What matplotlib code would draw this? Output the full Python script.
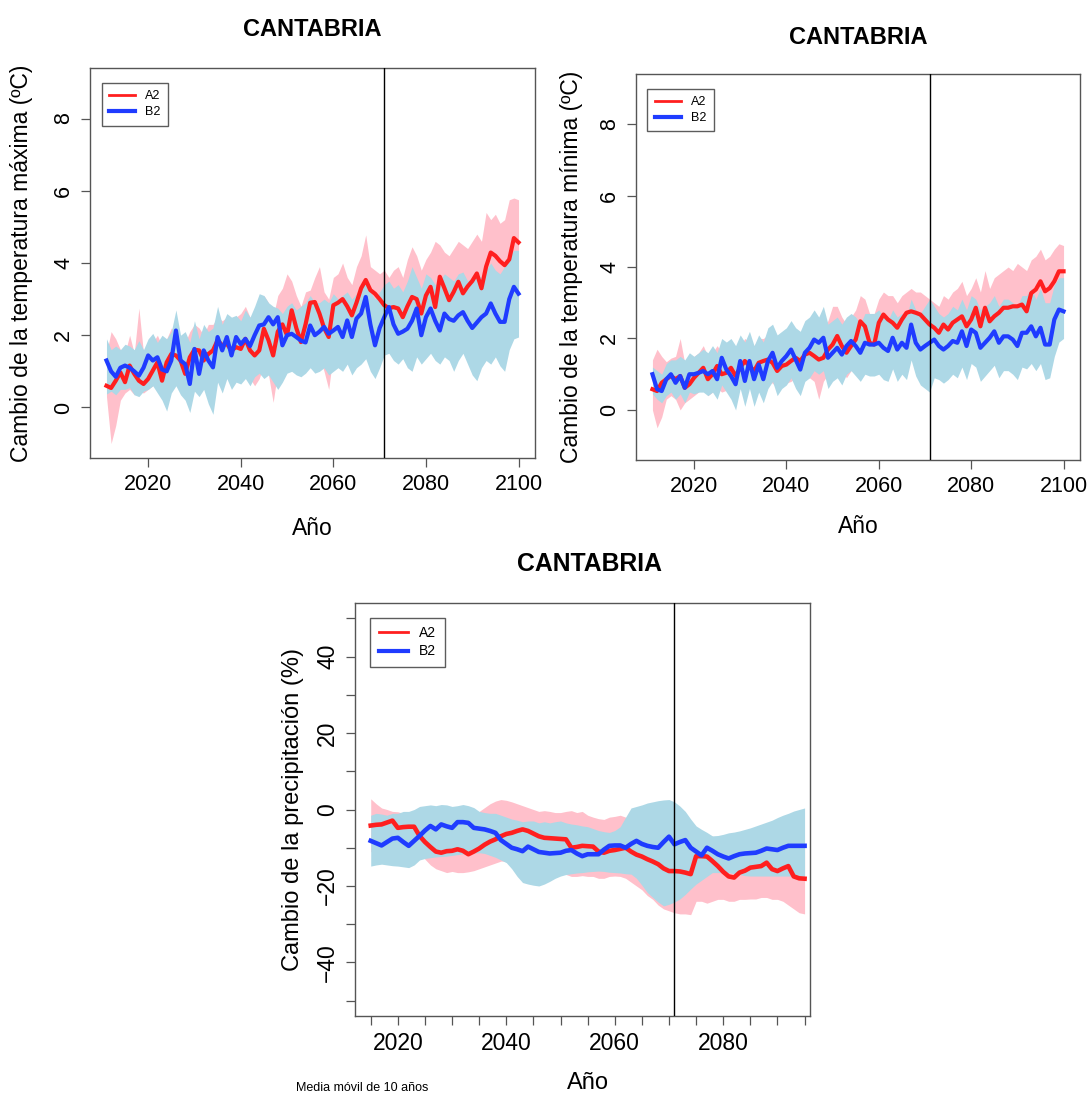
import numpy as np
import matplotlib
matplotlib.use('Agg')
import matplotlib.pyplot as plt
from matplotlib.lines import Line2D

plt.rcParams['font.family'] = ['Liberation Sans', 'DejaVu Sans']

# ---------------- data ----------------
years_temp = list(range(2011, 2101))
years_prec = list(range(2015, 2096))
vline_year = 2071
region = "CANTABRIA"
scenarios = ["A2", "B2"]

tmax_a2 = [0.60, 0.54, 0.74, 0.97, 0.70, 1.16, 0.93, 0.74, 0.65, 0.79,
           1.02, 1.25, 0.74, 1.25, 1.48, 1.44, 1.30, 0.93, 1.39, 1.60,
           1.58, 1.30, 1.48, 1.58, 1.86, 1.72, 1.76, 1.58, 1.67, 1.62,
           1.90, 1.58, 1.44, 1.58, 2.18, 1.86, 1.44, 2.10, 2.30, 2.00,
           2.69, 2.20, 1.81, 2.30, 2.90, 2.92, 2.60, 2.20, 1.95, 2.83,
           2.90, 3.00, 2.80, 2.55, 2.90, 3.30, 3.53, 3.25, 3.15, 3.00,
           2.83, 2.75, 2.78, 2.74, 2.50, 2.80, 3.06, 3.00, 2.60, 3.10,
           3.34, 2.78, 3.62, 3.30, 2.97, 3.20, 3.48, 3.16, 3.35, 3.50,
           3.71, 3.30, 3.90, 4.29, 4.20, 4.05, 3.94, 4.10, 4.69, 4.57]
tmax_a2_lo = [0.3, -1.0, -0.5, 0.2, 0.4, 0.5, 0.35, 0.45, 0.4, 0.5,
              0.6, 0.7, 0.3, 0.6, 0.8, 0.7, 0.7, 0.4, 0.6, 0.8,
              0.8, 0.6, 0.8, 0.8, 1.0, 0.9, 1.0, 0.8, 0.9, 0.9,
              1.0, 0.8, 0.6, 0.8, 1.2, 0.9, 0.14, 1.0, 1.2, 1.1,
              1.5, 1.2, 0.9, 1.2, 1.5, 1.6, 1.4, 1.0, 0.5, 1.5,
              1.6, 1.7, 1.6, 1.4, 1.6, 1.9, 2.0, 1.8, 1.7, 1.6,
              1.6, 1.7, 1.6, 1.6, 1.5, 1.7, 1.9, 1.9, 1.5, 1.9,
              2.1, 1.7, 2.3, 2.1, 1.8, 2.0, 2.2, 2.0, 2.1, 2.2,
              2.4, 2.1, 2.6, 2.9, 2.9, 2.7, 2.6, 2.8, 3.3, 3.3]
tmax_a2_hi = [1.5, 2.1, 1.9, 1.6, 1.5, 2.0, 1.5, 2.75, 1.5, 1.6,
              1.8, 2.0, 1.7, 1.9, 2.2, 2.1, 2.0, 1.8, 2.1, 2.3,
              2.2, 2.0, 2.3, 2.3, 2.5, 2.4, 2.5, 2.4, 2.5, 2.6,
              2.8, 2.5, 2.4, 2.7, 3.1, 2.9, 2.5, 3.1, 3.3, 3.7,
              3.5, 3.1, 2.8, 3.2, 3.25, 3.6, 3.9, 3.2, 3.0, 3.6,
              3.7, 4.0, 3.6, 3.4, 3.9, 4.2, 4.78, 3.9, 3.8, 3.7,
              3.8, 3.6, 3.8, 3.9, 3.6, 4.1, 4.45, 4.2, 3.8, 4.1,
              4.3, 4.6, 4.5, 4.3, 4.2, 4.4, 4.6, 4.5, 4.4, 4.6,
              4.8, 4.6, 5.4, 5.2, 5.35, 5.1, 5.2, 5.75, 5.8, 5.75]
tmax_b2 = [1.30, 1.00, 0.85, 1.10, 1.16, 1.10, 1.00, 0.88, 1.10, 1.44,
           1.30, 1.39, 1.05, 1.00, 1.30, 2.13, 1.30, 1.20, 0.65, 1.62,
           0.93, 1.58, 1.30, 1.11, 1.95, 1.58, 1.95, 1.44, 1.95, 1.75,
           1.90, 1.70, 2.00, 2.27, 2.30, 2.50, 2.30, 2.50, 1.72, 2.00,
           2.04, 1.95, 1.85, 1.80, 2.27, 2.00, 2.10, 2.23, 2.04, 2.13,
           2.23, 1.95, 2.41, 1.95, 2.46, 2.60, 3.06, 2.30, 1.72, 2.20,
           2.50, 2.78, 2.30, 2.04, 2.10, 2.18, 2.40, 2.74, 2.00, 2.50,
           2.74, 2.40, 2.13, 2.60, 2.45, 2.40, 2.55, 2.64, 2.40, 2.20,
           2.35, 2.50, 2.60, 2.88, 2.60, 2.37, 2.37, 3.00, 3.34, 3.15]
tmax_b2_lo = [0.37, 0.45, 0.35, 0.5, 0.5, 0.55, 0.35, 0.3, 0.45, 0.5,
              0.6, 0.4, 0.2, -0.1, 0.4, 0.6, 0.35, 0.2, -0.14, 0.45,
              0.3, 0.5, 0.1, -0.19, 0.7, 0.4, 0.8, 0.5, 0.7, 0.65,
              0.8, 0.6, 0.85, 0.95, 0.8, 0.9, 0.7, 0.5, 0.7, 0.95,
              1.0, 0.9, 0.85, 0.95, 1.1, 0.95, 1.0, 1.1, 0.9, 1.0,
              1.1, 1.0, 1.2, 0.9, 1.1, 1.2, 1.35, 1.0, 0.8, 1.1,
              1.45, 1.5, 1.3, 1.2, 1.35, 1.1, 1.0, 1.4, 1.2, 1.35,
              1.5, 1.3, 1.2, 1.4, 1.3, 1.0, 1.3, 1.5, 1.2, 0.9,
              0.74, 1.1, 1.3, 1.2, 1.4, 1.15, 1.0, 1.6, 1.9, 1.95]
tmax_b2_hi = [1.9, 1.6, 1.7, 1.6, 1.75, 1.7, 1.6, 1.85, 1.6, 1.9,
              2.05, 1.8, 2.0, 1.9, 2.1, 2.7, 2.0, 2.1, 1.8, 2.4,
              1.9, 2.3, 2.1, 2.2, 2.8, 2.3, 2.6, 2.5, 2.55, 2.4,
              2.7, 2.5, 2.8, 3.15, 3.1, 2.9, 2.8, 2.75, 2.6, 2.8,
              2.9, 2.7, 2.8, 2.9, 3.1, 2.9, 2.9, 3.0, 2.9, 3.15,
              3.0, 3.1, 3.2, 3.0, 3.15, 3.3, 3.6, 3.2, 3.0, 3.2,
              3.4, 3.5, 3.3, 3.4, 3.2, 3.5, 3.9, 3.6, 3.3, 3.7,
              3.6, 3.4, 3.5, 3.7, 3.6, 3.5, 3.7, 3.75, 3.5, 3.6,
              3.7, 3.6, 3.8, 4.0, 3.8, 3.7, 3.9, 4.2, 4.35, 4.35]

tmin_a2 = [0.58, 0.53, 0.76, 0.86, 0.95, 0.86, 0.95, 0.62, 0.72, 0.90,
           1.04, 1.18, 0.86, 1.00, 1.23, 1.00, 1.04, 1.18, 0.95, 1.18,
           1.37, 1.23, 1.09, 1.32, 1.37, 1.41, 1.32, 1.09, 1.23, 1.27,
           1.37, 1.46, 1.37, 1.55, 1.60, 1.51, 1.41, 1.46, 1.69, 1.83,
           2.07, 1.79, 1.60, 1.79, 1.97, 2.48, 2.34, 1.88, 1.83, 2.44,
           2.67, 2.53, 2.44, 2.30, 2.53, 2.72, 2.76, 2.72, 2.67, 2.53,
           2.39, 2.30, 2.16, 2.39, 2.25, 2.44, 2.53, 2.62, 2.34, 2.53,
           2.86, 2.34, 2.86, 2.48, 2.62, 2.72, 2.86, 2.86, 2.90, 2.90,
           2.95, 2.76, 3.27, 3.37, 3.60, 3.32, 3.41, 3.60, 3.88, 3.88]
tmin_a2_lo = [0.0, -0.5, -0.2, 0.3, 0.4, 0.3, 0.0, 0.2, 0.3, 0.4,
              0.5, 0.6, 0.4, 0.5, 0.6, 0.5, 0.55, 0.6, 0.45, 0.6,
              0.8, 0.7, 0.6, 0.75, 0.8, 0.8, 0.75, 0.6, 0.7, 0.75,
              0.8, 0.9, 0.8, 0.9, 0.9, 0.8, 0.3, 0.8, 1.0, 1.1,
              1.3, 1.1, 0.9, 1.1, 1.2, 1.6, 1.5, 1.1, 1.1, 1.6,
              1.8, 1.7, 1.6, 1.5, 1.6, 1.8, 1.9, 1.8, 1.8, 1.6,
              1.5, 1.4, 1.3, 1.5, 1.4, 1.6, 1.6, 1.7, 1.5, 1.6,
              1.9, 1.5, 1.9, 1.6, 1.7, 1.8, 1.9, 1.9, 2.0, 2.0,
              2.0, 1.8, 2.3, 2.4, 2.6, 2.4, 2.5, 2.6, 2.9, 2.9]
tmin_a2_hi = [1.4, 1.7, 1.5, 1.35, 1.45, 1.5, 2.0, 1.3, 1.4, 1.5,
              1.6, 1.8, 1.5, 1.6, 1.8, 1.6, 1.7, 1.8, 1.6, 1.8,
              2.0, 1.9, 1.8, 2.0, 2.0, 2.1, 2.0, 1.8, 1.95, 2.0,
              2.1, 2.2, 2.1, 2.3, 2.4, 2.3, 2.6, 2.3, 2.5, 2.9,
              2.9, 2.6, 2.4, 2.6, 2.8, 3.2, 3.1, 2.7, 2.7, 3.1,
              3.3, 3.2, 3.2, 3.0, 3.2, 3.3, 3.4, 3.3, 3.3, 3.2,
              3.1, 3.0, 2.9, 3.2, 3.1, 3.3, 3.4, 3.6, 3.2, 3.4,
              3.7, 3.3, 3.9, 3.4, 3.7, 3.8, 3.9, 4.0, 3.9, 4.1,
              4.0, 3.9, 4.2, 4.3, 4.5, 4.2, 4.3, 4.5, 4.65, 4.6]
tmin_b2 = [1.00, 0.58, 0.53, 0.86, 1.00, 0.76, 0.95, 0.62, 1.00, 1.00,
           1.04, 1.09, 1.00, 1.09, 0.86, 1.46, 1.13, 0.95, 0.72, 1.37,
           0.81, 1.37, 0.86, 1.27, 0.86, 1.37, 1.60, 1.18, 1.37, 1.51,
           1.69, 1.41, 1.13, 1.60, 1.74, 1.97, 1.88, 2.02, 1.46, 1.60,
           1.74, 1.55, 1.79, 1.93, 1.79, 1.60, 1.88, 1.83, 1.83, 1.88,
           1.74, 1.65, 2.02, 1.69, 1.88, 1.74, 2.39, 1.88, 1.69, 1.79,
           1.88, 1.97, 1.79, 1.69, 1.79, 1.93, 1.88, 2.20, 1.79, 2.25,
           2.16, 1.74, 1.88, 2.02, 2.20, 1.88, 2.06, 2.06, 1.97, 1.79,
           2.16, 2.16, 2.34, 2.06, 2.30, 1.83, 1.83, 2.53, 2.81, 2.76]
tmin_b2_lo = [0.45, 0.3, 0.2, 0.4, 0.5, 0.3, 0.45, 0.2, 0.5, 0.45,
              0.5, 0.5, 0.4, 0.5, 0.3, 0.7, 0.5, 0.3, 0.0, 0.6,
              0.1, 0.6, 0.1, 0.5, 0.2, 0.6, 0.8, 0.4, 0.6, 0.7,
              0.9, 0.6, 0.4, 0.8, 0.9, 1.1, 1.0, 1.1, 0.6, 0.8,
              0.9, 0.7, 1.0, 1.1, 0.95, 0.8, 1.0, 0.95, 0.95, 1.0,
              0.85, 0.8, 1.15, 0.8, 1.0, 0.85, 1.4, 0.95, 0.7, 0.6,
              0.5, 0.9, 0.85, 0.75, 0.85, 1.0, 0.9, 1.2, 0.85, 1.3,
              1.2, 0.8, 0.95, 1.1, 1.25, 0.9, 1.1, 1.1, 1.0, 0.85,
              1.2, 1.15, 1.3, 1.1, 1.3, 0.85, 0.9, 1.5, 1.9, 2.0]
tmin_b2_hi = [1.2, 1.1, 1.0, 1.3, 1.4, 1.4, 1.5, 1.4, 1.6, 1.5,
              1.6, 1.7, 1.6, 1.8, 1.6, 2.0, 1.9, 2.0, 1.8, 2.1,
              1.9, 2.2, 1.8, 2.1, 1.9, 2.3, 2.4, 2.1, 2.2, 2.3,
              2.5, 2.3, 2.2, 2.5, 2.6, 2.8, 2.6, 2.9, 2.4, 2.5,
              2.6, 2.4, 2.6, 2.7, 2.6, 2.4, 2.7, 2.7, 2.7, 2.8,
              2.6, 2.5, 2.8, 2.6, 2.7, 2.6, 3.1, 2.8, 2.7, 2.9,
              3.1, 2.9, 2.7, 2.6, 2.7, 2.9, 2.8, 3.1, 2.8, 3.2,
              3.1, 2.8, 2.9, 3.0, 3.2, 2.9, 3.1, 3.1, 3.0, 2.9,
              3.2, 3.2, 3.4, 3.1, 3.4, 3.0, 3.0, 3.5, 3.7, 3.7]

prec_a2 = [-4.2, -4.0, -3.9, -3.4, -2.9, -4.8, -4.6, -4.5, -4.5, -6.9,
           -8.5, -9.8, -11.0, -11.3, -10.9, -10.8, -10.4, -10.8, -11.7, -11.0,
           -10.2, -9.2, -8.4, -7.8, -7.0, -6.4, -6.1, -5.6, -5.2, -5.6,
           -6.3, -7.0, -7.4, -7.5, -7.6, -7.7, -7.8, -10.0, -9.8, -9.5,
           -9.6, -9.7, -11.0, -11.3, -10.8, -10.6, -10.3, -10.0, -11.0, -11.8,
           -12.3, -13.0, -13.6, -14.3, -15.4, -16.1, -16.1, -16.2, -16.5, -16.9,
           -12.2, -12.2, -12.3, -13.5, -14.8, -16.3, -17.5, -17.8, -16.5, -16.0,
           -15.2, -15.0, -14.8, -13.9, -15.6, -16.1, -15.4, -14.8, -17.5, -18.0,
           -18.1]
prec_a2_lo = [-11.0, -11.5, -12.0, -12.5, -12.0, -13.0, -13.5, -14.0, -13.0, -11.3,
              -13.0, -14.5, -15.5, -16.0, -16.5, -16.2, -16.5, -16.5, -16.3, -16.0,
              -15.5, -15.0, -14.5, -14.0, -13.5, -13.5, -13.0, -13.0, -13.0, -13.5,
              -14.0, -14.5, -15.5, -16.0, -16.5, -16.8, -17.0, -17.5, -17.5, -17.3,
              -17.5, -17.5, -18.0, -18.0, -17.5, -17.4, -17.5, -18.0, -19.0, -20.0,
              -21.0, -22.5, -23.5, -25.0, -26.0, -26.5, -27.0, -27.3, -27.3, -27.5,
              -24.0, -24.0, -24.5, -24.0, -23.5, -23.5, -24.0, -24.0, -23.5, -23.5,
              -23.4, -23.4, -23.0, -23.0, -23.5, -23.5, -24.0, -25.0, -26.0, -27.0,
              -27.3]
prec_a2_hi = [2.8, 1.5, 0.4, 0.0, -0.5, -0.6, -1.0, -1.5, -1.2, -1.0,
              -1.5, -2.0, -2.5, -2.5, -2.0, -2.5, -2.2, -2.0, -1.5, -1.0,
              -0.5, 0.5, 1.5, 2.2, 2.6, 2.4, 2.0, 1.5, 1.0, 0.5,
              0.0, -0.5, -0.3, -0.5, -0.8, -0.8, -0.5, -0.3, -0.8, -0.5,
              -1.5, -2.0, -2.4, -2.6, -2.0, -1.8, -1.5, -2.0, -3.0, -4.0,
              -4.5, -5.0, -5.5, -6.0, -6.5, -7.0, -7.0, -7.5, -8.0, -8.5,
              -6.0, -6.0, -6.5, -7.0, -7.5, -8.0, -8.5, -8.5, -8.0, -8.0,
              -7.5, -7.5, -7.0, -6.5, -7.0, -7.5, -7.0, -7.0, -8.0, -8.5,
              -8.5]
prec_b2 = [-8.2, -8.8, -9.4, -8.5, -7.6, -7.4, -8.5, -9.5, -8.2, -6.9,
           -5.5, -4.3, -5.2, -3.9, -4.4, -4.8, -3.3, -3.3, -3.5, -4.8,
           -5.0, -5.2, -5.6, -6.1, -8.0, -9.0, -10.0, -10.4, -10.9, -9.7,
           -10.4, -11.1, -11.3, -11.5, -11.4, -11.3, -10.8, -10.6, -11.5, -12.2,
           -11.7, -11.7, -11.7, -10.5, -9.5, -9.4, -9.4, -10.0, -9.0, -8.2,
           -9.0, -9.5, -9.8, -10.0, -8.5, -7.1, -9.1, -8.5, -8.0, -10.0,
           -11.0, -12.0, -10.0, -10.8, -11.7, -12.3, -12.8, -12.2, -11.7, -11.5,
           -11.4, -11.3, -10.8, -10.2, -10.4, -10.6, -10.0, -9.5, -9.5, -9.5,
           -9.5]
prec_b2_lo = [-14.8, -14.5, -14.3, -14.5, -14.7, -14.8, -15.0, -15.2, -14.5, -13.2,
              -12.8, -12.6, -12.4, -12.3, -12.2, -12.0, -11.8, -11.6, -11.5, -11.4,
              -11.3, -11.5, -12.0, -12.5, -13.2, -13.9, -15.5, -17.5, -19.1, -19.5,
              -19.8, -20.0, -19.5, -18.8, -18.0, -17.4, -17.0, -16.8, -16.6, -16.5,
              -16.3, -16.2, -16.1, -16.2, -16.4, -16.5, -16.6, -16.8, -16.9, -18.0,
              -19.8, -21.7, -23.0, -24.2, -25.2, -24.8, -24.2, -23.4, -22.2, -20.8,
              -19.5, -18.5, -17.5, -16.5, -16.5, -16.5, -16.5, -16.8, -17.0, -17.3,
              -17.4, -17.4, -17.4, -17.4, -17.4, -17.4, -17.4, -17.4, -17.4, -17.4,
              -17.4]
prec_b2_hi = [-1.5, -1.0, -1.2, -1.5, -1.0, -1.0, -0.5, -0.5, 0.0, 0.8,
              1.0, 1.2, 1.0, 1.3, 1.2, 0.8, 1.0, 1.3, 1.0, 0.5,
              -0.5, -0.8, -1.0, -1.0, -1.5, -2.0, -2.5, -2.8, -3.2, -3.0,
              -3.0, -3.5, -3.2, -3.5, -3.2, -3.0, -3.5, -3.8, -4.0, -4.3,
              -4.5, -5.0, -5.5, -5.8, -6.0, -5.5, -4.5, -2.0, 0.4, 0.8,
              1.2, 1.7, 2.0, 2.3, 2.5, 2.6, 2.0, 0.9, -0.5, -2.5,
              -4.3, -5.2, -6.0, -6.9, -6.8, -6.5, -6.1, -5.9, -5.6, -5.2,
              -4.8, -4.3, -3.8, -3.3, -2.8, -2.1, -1.5, -1.0, -0.4, 0.0,
              0.4]

temp_xticks = [2020, 2040, 2060, 2080, 2100]
temp_yticks = [0, 2, 4, 6, 8]
prec_xticks = list(range(2015, 2096, 5))
prec_xlabels = ['2020', '2040', '2060', '2080']
prec_yticks = list(range(-50, 51, 10))
prec_ylabels = ['\u221240', '\u221220', '0', '20', '40']

# ---------------- style ----------------
RED = '#ff1f1f'
BLUE = '#1f3cff'
PINK = '#ffc0cb'
LBLUE = '#add8e6'
SPINE = '#555555'

W, H = 1090, 1093
fig = plt.figure(figsize=(W / 100, H / 100), dpi=100)


def px_axes(l, t, r, b):
    return fig.add_axes([l / W, 1 - b / H, (r - l) / W, (b - t) / H])


def fmt_minus(v):
    return '\u2212' + str(-v) if v < 0 else str(v)


def panel(ax, years, a2, a2lo, a2hi, b2, b2lo, b2hi, lw=3.0):
    ax.fill_between(years, a2lo, a2hi, color=PINK, linewidth=0, zorder=1)
    ax.fill_between(years, b2lo, b2hi, color=LBLUE, linewidth=0, zorder=2)
    ax.plot(years, a2, color=RED, lw=lw, zorder=3, solid_joinstyle='round')
    ax.plot(years, b2, color=BLUE, lw=lw, zorder=4, solid_joinstyle='round')
    ax.axvline(vline_year, color='black', lw=1.0, zorder=5)
    for s in ax.spines.values():
        s.set_color(SPINE)
        s.set_linewidth(1.0)
    ax.tick_params(direction='out', length=6.3, width=0.9, color=SPINE)


def legend(ax, fs, anchor, lw_a=2.0, lw_b=3.0):
    handles = [Line2D([], [], color=RED, lw=lw_a), Line2D([], [], color=BLUE, lw=lw_b)]
    lg = ax.legend(handles, scenarios, loc='upper left', bbox_to_anchor=anchor,
                   borderaxespad=0, frameon=True, fancybox=False, fontsize=fs,
                   handlelength=2.1, handletextpad=0.8, labelspacing=0.3,
                   borderpad=0.6)
    lg.get_frame().set_edgecolor('#333333')
    lg.get_frame().set_linewidth(1.0)
    lg.set_zorder(10)


# ---- top-left: Tmax ----
ax1 = px_axes(90, 68, 535, 458)
panel(ax1, years_temp, tmax_a2, tmax_a2_lo, tmax_a2_hi, tmax_b2, tmax_b2_lo, tmax_b2_hi)
ax1.set_xlim(2007.44, 2103.56)
ax1.set_ylim(-1.4, 9.4)
ax1.set_xticks(temp_xticks)
ax1.set_yticks(temp_yticks)
ax1.tick_params(axis='both', labelsize=15.5, pad=5)
for t in ax1.get_yticklabels():
    t.set_rotation(90)
    t.set_va('center')
ax1.set_xlabel('Año', fontsize=16.5)
ax1.set_ylabel('Cambio de la temperatura máxima (ºC)', fontsize=16.5)
ax1.xaxis.set_label_coords(0.5, -0.151)
ax1.yaxis.set_label_coords(-0.128, 0.5)
legend(ax1, 9, (0.026, 0.962))
fig.text(312 / W, 1 - 30 / H, region, ha='center', va='center', fontsize=17, fontweight='bold')

# ---- top-right: Tmin ----
ax2 = px_axes(636, 74, 1080, 460)
panel(ax2, years_temp, tmin_a2, tmin_a2_lo, tmin_a2_hi, tmin_b2, tmin_b2_lo, tmin_b2_hi)
ax2.set_xlim(2007.44, 2103.56)
ax2.set_ylim(-1.4, 9.4)
ax2.set_xticks(temp_xticks)
ax2.set_yticks(temp_yticks)
ax2.tick_params(axis='both', labelsize=15.5, pad=5)
for t in ax2.get_yticklabels():
    t.set_rotation(90)
    t.set_va('center')
ax2.set_xlabel('Año', fontsize=16.5)
ax2.set_ylabel('Cambio de la temperatura mínima (ºC)', fontsize=16.5)
ax2.xaxis.set_label_coords(0.5, -0.142)
ax2.yaxis.set_label_coords(-0.119, 0.5)
legend(ax2, 9, (0.025, 0.962))
fig.text(858 / W, 1 - 37 / H, region, ha='center', va='center', fontsize=17, fontweight='bold')

# ---- bottom: precipitation ----
ax3 = px_axes(355, 603, 810, 1016)
panel(ax3, years_prec, prec_a2, prec_a2_lo, prec_a2_hi, prec_b2, prec_b2_lo, prec_b2_hi, lw=3.3)
ax3.set_xlim(2012.1, 2096.0)
ax3.set_ylim(-54, 54)
ax3.set_xticks(prec_xticks)
ax3.set_xticklabels([str(y) if str(y) in prec_xlabels else '' for y in prec_xticks])
ax3.set_yticks(prec_yticks)
ax3.set_yticklabels([fmt_minus(v) if fmt_minus(v) in prec_ylabels else '' for v in prec_yticks])
ax3.tick_params(axis='both', labelsize=16.5, pad=5)
for t in ax3.get_yticklabels():
    t.set_rotation(90)
    t.set_va('center')
ax3.set_xlabel('Año', fontsize=17)
ax3.set_ylabel('Cambio de la precipitación (%)', fontsize=17)
ax3.xaxis.set_label_coords(0.513, -0.136)
ax3.yaxis.set_label_coords(-0.112, 0.5)
legend(ax3, 10, (0.034, 0.964))
fig.text(589 / W, 1 - 564 / H, region, ha='center', va='center', fontsize=17.8, fontweight='bold')
fig.text(362 / W, 1 - 1088 / H, 'Media móvil de 10 años', ha='center', va='center', fontsize=9)

fig.savefig('out.png', dpi=100, facecolor='white')
